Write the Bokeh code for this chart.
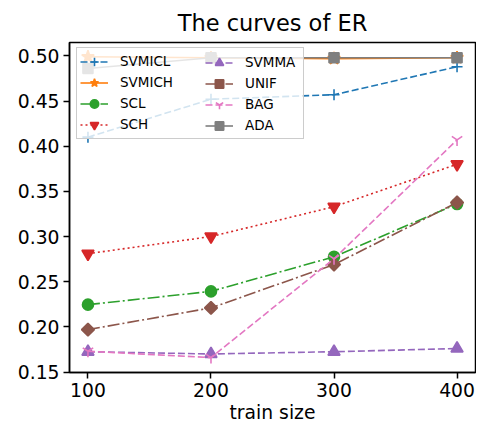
import numpy as np
from bokeh.plotting import figure
from bokeh.models import Legend, LegendItem, FixedTicker, PrintfTickFormatter, Range1d
from bokeh.embed import file_html
from bokeh.resources import INLINE

# ---- data ----
train_size = [100, 200, 300, 400]
x_ticks = [100, 200, 300, 400]
y_ticks = [0.15, 0.20, 0.25, 0.30, 0.35, 0.40, 0.45, 0.50]

svmicl = [0.410, 0.452, 0.457, 0.488]
svmich = [0.499, 0.498, 0.497, 0.498]
scl = [0.2246, 0.2393, 0.2776, 0.336]
sch = [0.281, 0.300, 0.333, 0.380]
svmma = [0.1725, 0.170, 0.1725, 0.176]
unif = [0.197, 0.221, 0.269, 0.3377]
bag = [0.173, 0.166, 0.2754, 0.407]
ada = [0.486, 0.498, 0.498, 0.498]

FONT = "DejaVu Sans"

series = [
    # name, values, color, dash, marker, size, angle
    ("SVMICL", svmicl, "#1f77b4", "7 3", "cross", 11, 0.0),
    ("SVMICH", svmich, "#ff7f0e", "solid", "star", 13, 0.0),
    ("SCL", scl, "#2ca02c", "12 3 2 3", "circle", 11, 0.0),
    ("SCH", sch, "#d62728", "2 3", "inverted_triangle", 12, 0.0),
    ("SVMMA", svmma, "#9467bd", "7 3", "triangle", 12, 0.0),
    ("UNIF", unif, "#8c564b", "12 3 2 3", "square", 9, np.pi / 4),
    ("BAG", bag, "#e377c2", "7 3", "y", 12, 0.0),
    ("ADA", ada, "#7f7f7f", "solid", "square", 10, 0.0),
]

FRAME_LEFT = 69
FRAME_TOP = 40
FRAME_W = 406
FRAME_H = 330

p = figure(
    frame_width=FRAME_W,
    frame_height=FRAME_H,
    min_border_left=FRAME_LEFT,
    min_border_right=1,
    min_border_top=FRAME_TOP,
    min_border_bottom=54,
    output_backend="svg",
    toolbar_location=None,
    x_range=Range1d(85, 415),
    y_range=Range1d(0.1495, 0.5148),
    title="The curves of ER",
)
p.background_fill_color = "white"
p.border_fill_color = "white"
p.outline_line_color = "black"
p.outline_line_width = 1.5
p.grid.visible = False

p.title.text_font = FONT
p.title.text_font_size = "22.5px"
p.title.text_font_style = "normal"
p.title.align = "center"
p.title.standoff = 14
p.title.text_color = "black"

for ax in (p.xaxis[0], p.yaxis[0]):
    ax.axis_line_width = 1.5
    ax.axis_line_color = "black"
    ax.major_tick_in = 0
    ax.major_tick_out = 6
    ax.major_tick_line_width = 1.5
    ax.major_tick_line_color = "black"
    ax.minor_tick_line_color = None
    ax.major_label_text_font = FONT
    ax.major_label_text_font_size = "18.75px"
    ax.major_label_text_color = "black"
    ax.major_label_standoff = 4

p.xaxis[0].major_label_standoff = 4
p.xaxis[0].ticker = FixedTicker(ticks=x_ticks)
p.yaxis[0].ticker = FixedTicker(ticks=y_ticks)
p.yaxis[0].formatter = PrintfTickFormatter(format="%.2f")
p.xaxis[0].axis_label = "train size"
p.xaxis[0].axis_label_text_font = FONT
p.xaxis[0].axis_label_text_font_size = "18.75px"
p.xaxis[0].axis_label_text_font_style = "normal"
p.xaxis[0].axis_label_text_color = "black"
p.xaxis[0].axis_label_standoff = 2

items = []
for name, vals, color, dash, marker, size, angle in series:
    lr = p.line(train_size, vals, line_color=color, line_width=1.6, line_dash=dash)
    sr = p.scatter(train_size, vals, marker=marker, size=size, angle=angle,
                   fill_color=color, line_color=color, line_width=1.6)
    items.append(LegendItem(label=name, renderers=[lr, sr]))

GLYPH_H = 21
SPACING = 0
PAD = 3
legend_common = dict(
    label_text_font=FONT,
    label_text_font_size="13.5px",
    label_text_color="black",
    glyph_width=28,
    glyph_height=GLYPH_H,
    label_height=GLYPH_H,
    label_standoff=12,
    label_width=180,
    spacing=SPACING,
    padding=PAD,
    margin=0,
    border_line_width=1,
    background_fill_color="white",
)

legend_h = 2 * PAD + 4 * GLYPH_H + 3 * SPACING
bottom_y = FRAME_H - 6.5 - legend_h
leg1 = Legend(items=items[:4], location=(7, bottom_y),
              border_line_color="#cccccc", border_line_alpha=1.0,
              background_fill_alpha=0.8, **legend_common)
leg2 = Legend(items=items[4:], location=(133, bottom_y),
              border_line_color="#cccccc", border_line_alpha=0.0,
              background_fill_alpha=0.0, **legend_common)
p.add_layout(leg1)
p.add_layout(leg2)

open("out.html", "w").write(file_html(p, INLINE))
